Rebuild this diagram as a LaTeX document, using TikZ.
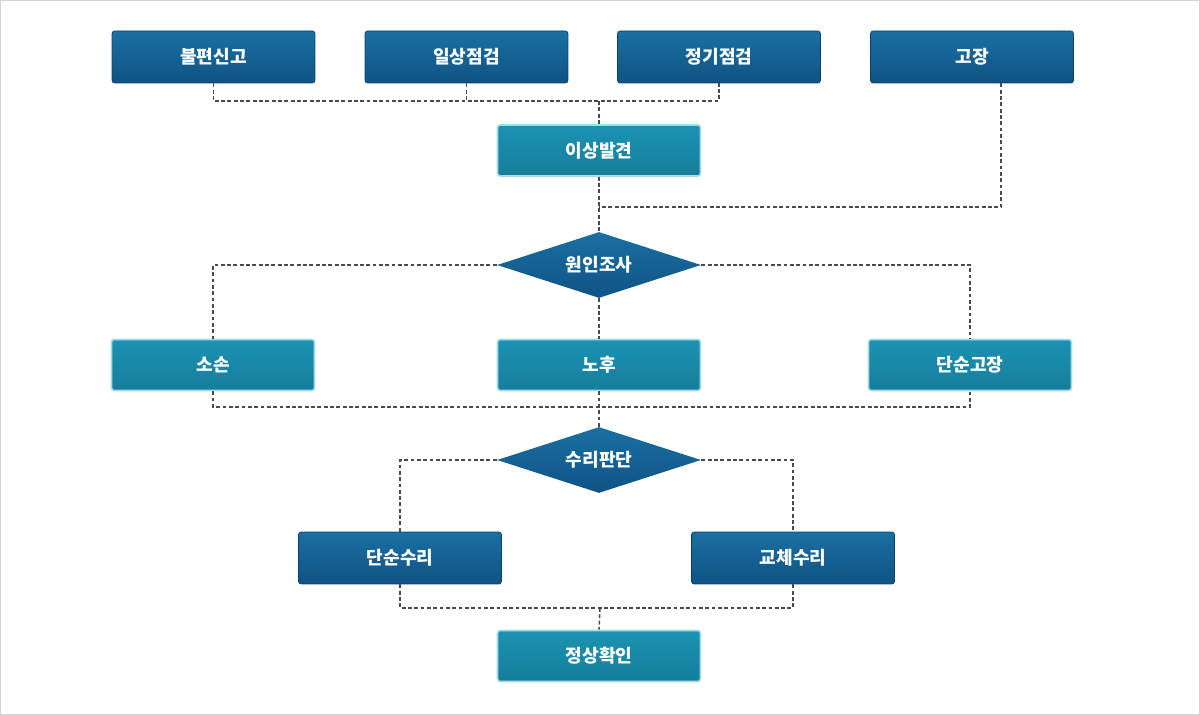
\documentclass[tikz,border=0pt]{standalone}
\usepackage{fontspec}
\newfontfamily\kr{Noto Sans CJK KR}
\usetikzlibrary{shapes.geometric}
\definecolor{darktop}{HTML}{1B6FA2}
\definecolor{darkbot}{HTML}{0F5384}
\definecolor{tealtop}{HTML}{1A93B2}
\definecolor{tealbot}{HTML}{167D9B}
\definecolor{tealedge}{HTML}{A6DBE6}
\definecolor{linkgray}{HTML}{4A4A4A}
\tikzset{
  base/.style={font=\kr\bfseries\fontsize{10.3}{12}\selectfont,text=white,inner sep=0pt},
  darkbox/.style={base,rectangle,rounded corners=1.5pt,minimum width=4.06cm,minimum height=1.04cm,
    top color=darktop,bottom color=darkbot,draw=darkbot!80!black,line width=0.4pt},
  tealbox/.style={base,rectangle,rounded corners=1.5pt,minimum width=4.06cm,minimum height=1.02cm,
    top color=tealtop,bottom color=tealbot,draw=tealedge,line width=0.9pt},
  decide/.style={base,diamond,aspect=3,minimum width=4.08cm,minimum height=1.32cm,
    top color=darktop,bottom color=darkbot,draw=none},
  link/.style={draw=linkgray,line width=0.85pt,dash pattern=on 2.2pt off 1.4pt}
}
\begin{document}
\begin{tikzpicture}[x=0.02cm,y=-0.02cm]
\useasboundingbox (0,0) rectangle (1200,715);
\draw[gray!35,line width=0.6pt] (0.5,0.5) rectangle (1199.5,714.5);
% reports
\node[darkbox] (a1) at (213.5,57) {불편신고};
\node[darkbox] (a2) at (466.5,57) {일상점검};
\node[darkbox] (a3) at (719,57) {정기점검};
\node[darkbox] (a4) at (972,57) {고장};
\node[tealbox] (find) at (599,150.5) {이상발견};
\node[decide] (c1) at (599,265) {원인조사};
% causes
\node[tealbox] (r1) at (213,365) {소손};
\node[tealbox] (r2) at (599,365) {노후};
\node[tealbox] (r3) at (970,365) {단순고장};
\node[decide] (c2) at (599,460) {수리판단};
% repairs
\node[darkbox] (s1) at (400,558) {단순수리};
\node[darkbox] (s2) at (793,558) {교체수리};
\node[tealbox] (ok) at (599,656) {정상확인};
\coordinate (j1) at (599,101);
\coordinate (j2) at (599,207);
\coordinate (j3) at (599,407);
\coordinate (j4) at (600,608);
% connectors
\draw[link] (a1.south) -- (a1.south |- j1) -| (a3.south);
\draw[link] (a2.south) -- (a2.south |- j1);
\draw[link] (j1) -- (find.north);
\draw[link] ([xshift=0.58cm]a4.south) |- (j2);
\draw[link] (find.south) -- (c1.north);
\draw[link] (c1.west) -| (r1.north);
\draw[link] (c1.east) -| (r3.north);
\draw[link] (c1.south) -- (r2.north);
\draw[link] (r1.south) -- (r1.south |- j3) -| (r3.south);
\draw[link] (r2.south) -- (c2.north);
\draw[link] (c2.west) -| (s1.north);
\draw[link] (c2.east) -| (s2.north);
\draw[link] (s1.south) -- (s1.south |- j4) -| (s2.south);
\draw[link] (j4) -- (ok.north);
\end{tikzpicture}
\end{document}
